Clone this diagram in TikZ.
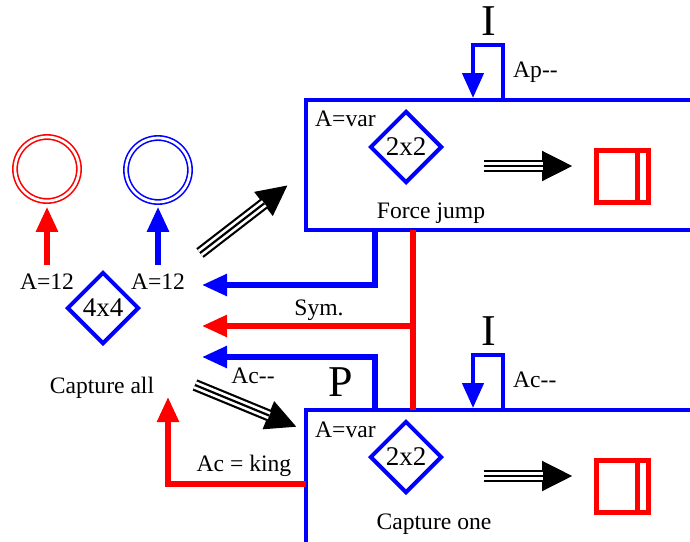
\documentclass[tikz,border=0pt]{standalone}
\usepackage{fontspec}
\setmainfont{Liberation Serif}
\usetikzlibrary{arrows.meta,shapes.geometric}
\begin{document}
\begin{tikzpicture}[x=1pt,y=-1pt,
 lbl/.style={font=\fontsize{23.6}{27}\selectfont, inner sep=0pt},
 big/.style={font=\fontsize{44}{50}\selectfont, inner sep=0pt},
 panel/.style={draw=blue, line width=4pt, anchor=north west, outer sep=0pt, minimum width=420pt},
 dia/.style={diamond, draw=blue, line width=4pt, minimum size=72pt, inner sep=0pt, font=\fontsize{27}{30}\selectfont},
 ring/.style={circle, draw=#1, double=white, line width=1.6pt, double distance=2.7pt, minimum size=64pt, inner sep=0pt},
 flow/.style={draw=#1, line width=5.5pt, -{Triangle[length=25pt,width=21pt]}},
 loopl/.style={draw=blue, line width=4.5pt, -{Triangle[length=25pt,width=21pt]}, shorten >=2pt},
 tri/.style={draw=black, line width=12pt, -{Triangle[length=31pt,width=28pt]},
   postaction={draw=white, line width=7.6pt, -, shorten >=30pt},
   postaction={draw=black, line width=2.2pt, -, shorten >=30pt}},
 result/.style={draw=red, line width=5pt, minimum width=52pt, minimum height=52pt, outer sep=0pt, inner sep=0pt},
]
\useasboundingbox (0,0) rectangle (690,541);
\clip (0,0) rectangle (690,541);

% helper coordinates
\coordinate (x375) at (375,0);
\coordinate (x413) at (413,0);
\coordinate (x473) at (473,0);
\coordinate (x503) at (503,0);
\coordinate (y45) at (0,45);
\coordinate (y355) at (0,355);
\coordinate (y484) at (0,484);

% panels
\node[panel, minimum height=130pt] (fj) at (306,100) {};
\node[panel, minimum height=200pt] (cap) at (306,410) {};

% left part
\node[ring=red] (r1) at (47,169) {};
\node[ring=blue] (r2) at (158,170) {};
\node[lbl] (l1) at (47,282) {A=12};
\node[lbl] (l2) at (158,282) {A=12};
\draw[flow=red, shorten <=9pt, shorten >=5pt] (l1.north) -- (r1.south);
\draw[flow=blue, shorten <=9pt, shorten >=4pt] (l2.north) -- (r2.south);
\node[dia] (d44) at (103,308) {4x4};
\node[lbl] (call) at (102,388) {Capture all};

% free arrow ends
\coordinate (ta) at (200,253);
\coordinate (tah) at (288,185);
\coordinate (tb) at (195,385);
\coordinate (tbh) at (297,427);
\coordinate (tb1) at (202,285);
\coordinate (ts) at (202,326);
\coordinate (tb2) at (202,357);
\coordinate (tk) at (168,397);

\draw[tri] (ta) -- (tah);
\draw[tri] (tb) -- (tbh);

% top panel contents
\node[lbl, anchor=west] (av1) at (315,119) {A=var};
\node[dia] (d1) at (406,147) {2x2};
\coordinate (h1a) at (484,166);
\coordinate (h1b) at (573,166);
\draw[tri] (h1a) -- (h1b);
\node[result] (res1) at (622,176) {};
\draw[red, line width=5pt] ([xshift=-11pt]res1.north east) -- ([xshift=-11pt]res1.south east);
\node[lbl] (fjl) at (431,213) {Force jump};

% bottom panel contents
\node[lbl, anchor=west] (av2) at (315,430) {A=var};
\node[dia] (d2) at (406,457) {2x2};
\coordinate (h2a) at (484,476);
\coordinate (h2b) at (573,476);
\draw[tri] (h2a) -- (h2b);
\node[result] (res2) at (622,486) {};
\draw[red, line width=5pt] ([xshift=-11pt]res2.north east) -- ([xshift=-11pt]res2.south east);
\node[lbl] (col) at (434,524) {Capture one};

% loops
\node[big] (i1) at (489,21) {I};
\draw[loopl] (fj.north -| x503) |- (x473 |- y45) -- (fj.north -| x473);
\node[lbl, anchor=west] (ap) at (513,72) {Ap-{}-};
\node[big] (i2) at (489,331) {I};
\draw[loopl] (cap.north -| x503) |- (x473 |- y355) -- (cap.north -| x473);
\node[lbl, anchor=west] (ac2) at (513,380) {Ac-{}-};

% connectors between panels and left
\draw[flow=blue] (fj.south -| x375) |- (tb1);
\draw[red, line width=5.5pt] (fj.south -| x413) -- (cap.north -| x413);
\draw[flow=red] (x413 |- ts) -- (ts);
\node[lbl] (sym) at (319,310) {Sym.};
\draw[flow=blue] (cap.north -| x375) |- (tb2);
\node[lbl] (ac1) at (253,376) {Ac-{}-};
\node[big] (p) at (341,382) {P};
\draw[flow=red] (cap.west |- y484) -| (tk);
\node[lbl] (ack) at (244,466) {Ac = king};
\end{tikzpicture}
\end{document}
